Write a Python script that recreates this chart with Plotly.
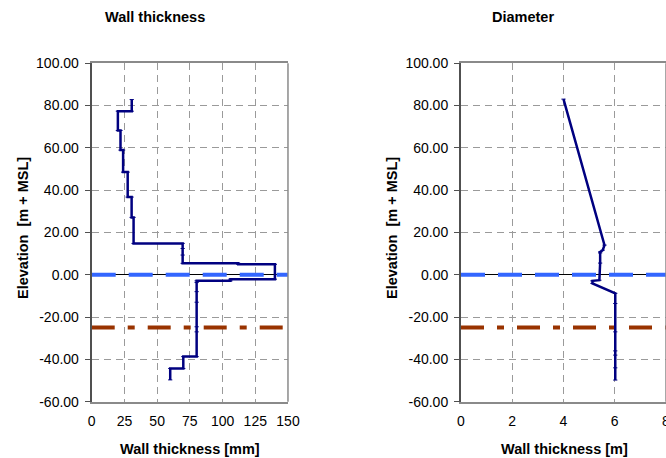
import plotly.graph_objects as go

# Wall thickness profile along the pile (thickness in mm, elevation in m + MSL)
wall_thickness = [30.6, 30.6, 20.0, 20.0, 22.0, 22.0, 24.0, 24.0, 27.5, 27.5, 30.5, 30.5,
                  32.0, 32.0, 69.5, 69.5, 69.5, 69.5, 112.0, 112.0, 140.0, 140.0, 106.0,
                  106.0, 80.2, 80.2, 80.2, 80.2, 80.2, 80.2, 80.2, 70.0, 70.0, 60.0, 60.0]
wall_elevation = [82.8, 77.3, 77.3, 68.2, 68.2, 58.9, 58.9, 48.5, 48.5, 36.7, 36.7, 27.1,
                  27.1, 14.8, 14.8, 12.4, 9.3, 5.4, 5.4, 4.9, 4.9, -2.1, -2.1,
                  -2.9, -2.9, -3.7, -8.0, -13.0, -24.6, -27.0, -38.7, -38.7, -44.3, -44.3, -49.7]

# Diameter profile (m) against elevation (m + MSL)
diameter = [4.0, 5.6, 5.53, 5.43, 5.43, 5.43, 5.4, 5.13, 5.13, 6.02, 6.02, 6.02, 6.02, 6.02, 6.02, 6.02]
diameter_elevation = [83.0, 14.0, 11.6, 10.8, 10.3, 5.5, -2.6, -2.9, -4.1, -8.8,
                      -13.6, -27.0, -36.0, -38.0, -44.0, -49.8]

# Reference levels
msl_level = 0.0
seabed_level = -25.0

wall_range = [0, 150]
wall_ticks = [0, 25, 50, 75, 100, 125, 150]
diam_range = [0, 8]
diam_ticks = [0, 2, 4, 6, 8]
elev_range = [-60, 100]
elev_ticks = [-60, -40, -20, 0, 20, 40, 60, 80, 100]
elev_labels = [f"{v:.2f}" for v in elev_ticks]

NAVY = "#000080"
BLUE = "#3366FF"
BROWN = "#993300"
FONT = "Liberation Sans, Arial, sans-serif"

fig = go.Figure()


def add_panel(xs, ys, xr, xa, ya):
    fig.add_trace(go.Scatter(
        x=xr, y=[msl_level, msl_level], mode="lines", xaxis=xa, yaxis=ya,
        line=dict(color=BLUE, width=4, dash="24px,13px"), hoverinfo="skip"))
    fig.add_trace(go.Scatter(
        x=xr, y=[seabed_level, seabed_level], mode="lines", xaxis=xa, yaxis=ya,
        line=dict(color=BROWN, width=4, dash="23px,13px,7px,13px"), hoverinfo="skip"))
    fig.add_trace(go.Scatter(
        x=xs, y=ys, mode="lines+markers", xaxis=xa, yaxis=ya,
        line=dict(color=NAVY, width=2.5),
        marker=dict(symbol="line-ew", size=3, line=dict(color=NAVY, width=1))))


add_panel(wall_thickness, wall_elevation, wall_range, "x", "y")
add_panel(diameter, diameter_elevation, diam_range, "x2", "y2")

grid = dict(showgrid=True, gridcolor="#9a9a9a", gridwidth=1, griddash="7px,5px")
tickfont = dict(family=FONT, size=14, color="#000")

xcommon = dict(**grid, showline=True, linecolor="#8a8a8a", linewidth=1.5, mirror=True,
               ticks="", zeroline=False, tickfont=tickfont, fixedrange=True,
               automargin=False, ticklabelstandoff=6, ticklabeloverflow="allow")
ycommon = dict(**grid, range=elev_range, tickvals=elev_ticks, ticktext=elev_labels,
               showline=True, linecolor="#505050", linewidth=2, ticks="outside",
               ticklen=5, tickcolor="#505050", zeroline=True, zerolinecolor="#000",
               zerolinewidth=1, tickfont=tickfont, ticklabelstandoff=3,
               automargin=False, fixedrange=True)

fig.update_layout(
    width=666, height=458,
    margin=dict(l=0, r=0, t=0, b=0, autoexpand=False),
    paper_bgcolor="white", plot_bgcolor="white",
    showlegend=False,
    font=dict(family=FONT, color="#000"),
    xaxis=dict(**xcommon, domain=[0.1377, 0.4324], range=wall_range, tickvals=wall_ticks, anchor="y"),
    yaxis=dict(**ycommon, domain=[0.1230, 0.8621], anchor="x"),
    xaxis2=dict(**xcommon, domain=[0.6922, 1.0], range=diam_range, tickvals=diam_ticks, anchor="y2"),
    yaxis2=dict(**ycommon, domain=[0.1230, 0.8621], anchor="x2"),
)

# right-hand frame edge of each panel
for xr in ("x domain", "x2 domain"):
    fig.add_shape(type="line", xref=xr, yref="paper", x0=1, x1=1, y0=0.1230, y1=0.8621,
                  line=dict(color="#8a8a8a", width=1.5))

bold = dict(family=FONT, size=14.5, color="#000")
texts = [
    ("<b>Wall thickness</b>", 155, 17, 0),
    ("<b>Diameter</b>", 523, 17, 0),
    ("<b>Wall thickness [mm]</b>", 190, 449, 0),
    ("<b>Wall thickness [m]</b>", 564, 449, 0),
    ("<b>Elevation  [m + MSL]</b>", 23, 228, -90),
    ("<b>Elevation  [m + MSL]</b>", 392, 228, -90),
]
for txt, px, py, ang in texts:
    fig.add_annotation(text=txt, x=px / 666, y=1 - py / 458, xref="paper", yref="paper",
                       showarrow=False, textangle=ang, font=bold,
                       xanchor="center", yanchor="middle")

fig.write_html("out.html")
